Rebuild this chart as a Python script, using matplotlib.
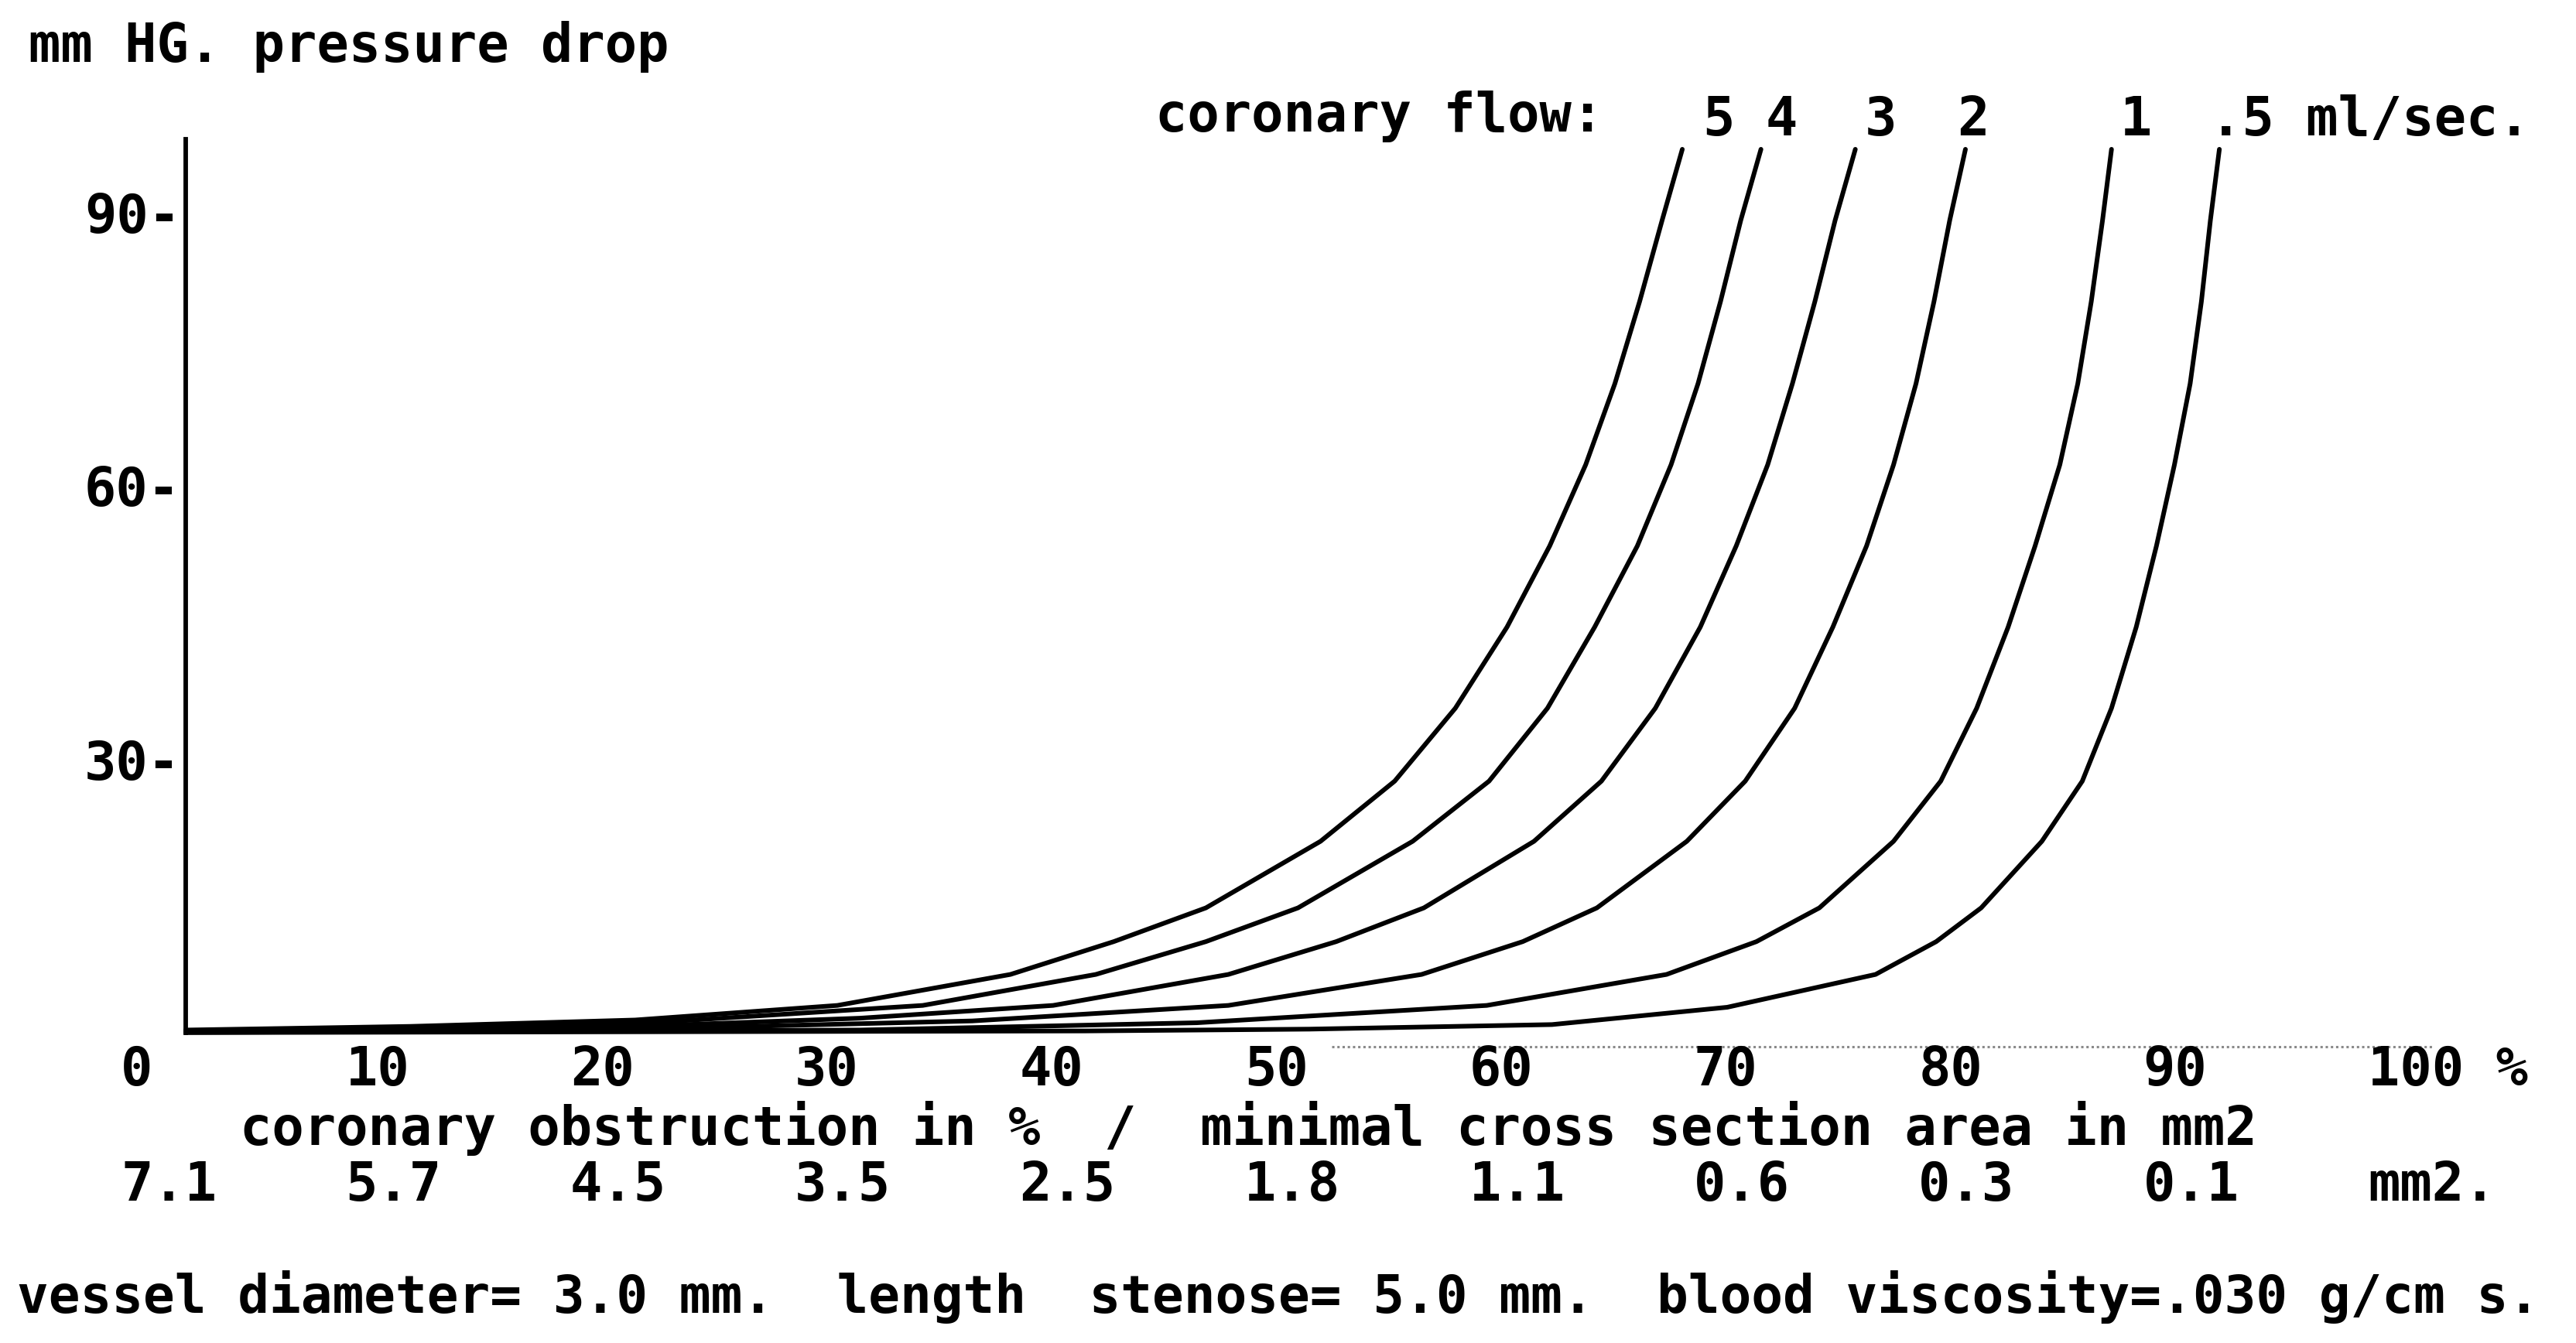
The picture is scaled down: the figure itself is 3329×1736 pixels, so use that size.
import matplotlib
matplotlib.use("Agg")
import matplotlib.pyplot as plt
import matplotlib.transforms as mtransforms

# pressure drop curves, one per coronary flow (ml/sec)
flow_labels = ["5", "4", "3", "2", "1", ".5"]

obstr_5 = [0, 10, 20, 29.0, 36.7, 41.3, 45.4, 50.5, 53.8, 56.5, 58.8, 60.7, 62.3, 63.6, 64.7, 65.7, 66.6]
dp_5 = [0.3, 0.7, 1.4, 3.0, 6.4, 10.0, 13.7, 21.0, 27.6, 35.6, 44.5, 53.4, 62.3, 71.2, 80.2, 89.1, 96.9]

obstr_4 = [0, 10, 20, 32.8, 40.5, 45.4, 49.5, 54.6, 58.0, 60.6, 62.7, 64.6, 66.1, 67.3, 68.3, 69.2, 70.1]
dp_4 = [0.2, 0.5, 1.0, 3.0, 6.4, 10.0, 13.7, 21.0, 27.6, 35.6, 44.5, 53.4, 62.3, 71.2, 80.2, 89.1, 96.9]

obstr_3 = [0, 10, 20, 30, 38.6, 46.4, 51.2, 55.1, 60.0, 63.0, 65.4, 67.4, 69.0, 70.4, 71.5, 72.5, 73.4, 74.3]
dp_3 = [0.1, 0.3, 0.7, 1.6, 3.0, 6.4, 10.0, 13.7, 21.0, 27.6, 35.6, 44.5, 53.4, 62.3, 71.2, 80.2, 89.1, 96.9]

obstr_2 = [0, 20, 35, 46.4, 55.0, 59.5, 62.8, 66.8, 69.4, 71.6, 73.3, 74.8, 76.0, 77.0, 77.8, 78.5, 79.2]
dp_2 = [0.1, 0.4, 1.3, 3.0, 6.4, 10.0, 13.7, 21.0, 27.6, 35.6, 44.5, 53.4, 62.3, 71.2, 80.2, 89.1, 96.9]

obstr_1 = [0, 30, 45, 57.9, 65.9, 69.9, 72.7, 76.0, 78.1, 79.7, 81.1, 82.3, 83.4, 84.2, 84.8, 85.3, 85.7]
dp_1 = [0.05, 0.3, 1.1, 3.0, 6.4, 10.0, 13.7, 21.0, 27.6, 35.6, 44.5, 53.4, 62.3, 71.2, 80.2, 89.1, 96.9]

obstr_05 = [0, 40, 50, 60.8, 68.6, 75.2, 77.9, 79.9, 82.6, 84.4, 85.7, 86.8, 87.7, 88.5, 89.2, 89.7, 90.1, 90.5]
dp_05 = [0.02, 0.2, 0.4, 0.9, 2.8, 6.4, 10.0, 13.7, 21.0, 27.6, 35.6, 44.5, 53.4, 62.3, 71.2, 80.2, 89.1, 96.9]

curves = [(obstr_5, dp_5), (obstr_4, dp_4), (obstr_3, dp_3),
          (obstr_2, dp_2), (obstr_1, dp_1), (obstr_05, dp_05)]

pct_ticks = [0, 10, 20, 30, 40, 50, 60, 70, 80, 90, 100]
pct_labels = ["0", "10", "20", "30", "40", "50", "60", "70", "80", "90", "100 %"]
area_labels = ["7.1", "5.7", "4.5", "3.5", "2.5", "1.8", "1.1", "0.6", "0.3", "0.1", "mm2."]
y_ticks = [30, 60, 90]
y_labels = ["30-", "60-", "90-"]

W, H = 3329, 1736
FS = 49.5
MONO = "DejaVu Sans Mono"

fig = plt.figure(figsize=(W / 100, H / 100), dpi=100, facecolor="white")
ax = fig.add_axes([240 / W, 1 - 1335 / H, (3144 - 240) / W, (1335 - 180) / H])
ax.set_xlim(0, 100)
ax.set_ylim(0, 98)
ax.set_facecolor("none")

for x, y in curves:
    ax.plot(x, y, color="black", lw=4.3, clip_on=False,
            solid_joinstyle="round", solid_capstyle="round")

# faint dotted baseline on the right
ax.plot([51, 100], [-1.5, -1.5], color="#8a8a8a", lw=2.2, ls=(0, (1, 1.2)), clip_on=False)

for s in ["top", "right", "bottom"]:
    ax.spines[s].set_visible(False)
ax.spines["left"].set_linewidth(4.2)

ax.set_xticks([])
ax.set_yticks(y_ticks)
ax.set_yticklabels(y_labels, fontsize=FS, fontweight="bold", family=MONO)
ax.tick_params(axis="y", length=0, pad=5)

# x labels sit left-aligned about two characters before each tick
shift = mtransforms.ScaledTranslation(-0.84, 0, fig.dpi_scale_trans)
blend = mtransforms.blended_transform_factory(ax.transData, fig.transFigure) + shift
for t, lab in zip(pct_ticks, pct_labels):
    ax.text(t, 1 - 1403 / H, lab, transform=blend, ha="left", va="baseline",
            fontsize=FS, fontweight="bold", family=MONO, clip_on=False)
for t, lab in zip(pct_ticks, area_labels):
    ax.text(t, 1 - 1552 / H, lab, transform=blend, ha="left", va="baseline",
            fontsize=FS, fontweight="bold", family=MONO, clip_on=False)


def put(x, y, s, ha="left", size=FS):
    fig.text(x / W, 1 - y / H, s, ha=ha, va="baseline", fontsize=size,
             fontweight="bold", family=MONO)


put(37, 80, "mm HG. pressure drop")
put(1493, 170, "coronary flow:")
for cx, lab in zip([2221, 2302, 2430, 2550, 2760], flow_labels[:5]):
    put(cx, 175, lab, ha="center")
put(2856, 175, flow_labels[5] + " ml/sec.")

put(310, 1480, "coronary obstruction in %  /  minimal cross section area in mm2")
put(22, 1697, "vessel diameter= 3.0 mm.  length  stenose= 5.0 mm.  blood viscosity=.030 g/cm s.",
    size=48.8)

fig.savefig("out.png", dpi=100, facecolor="white")
